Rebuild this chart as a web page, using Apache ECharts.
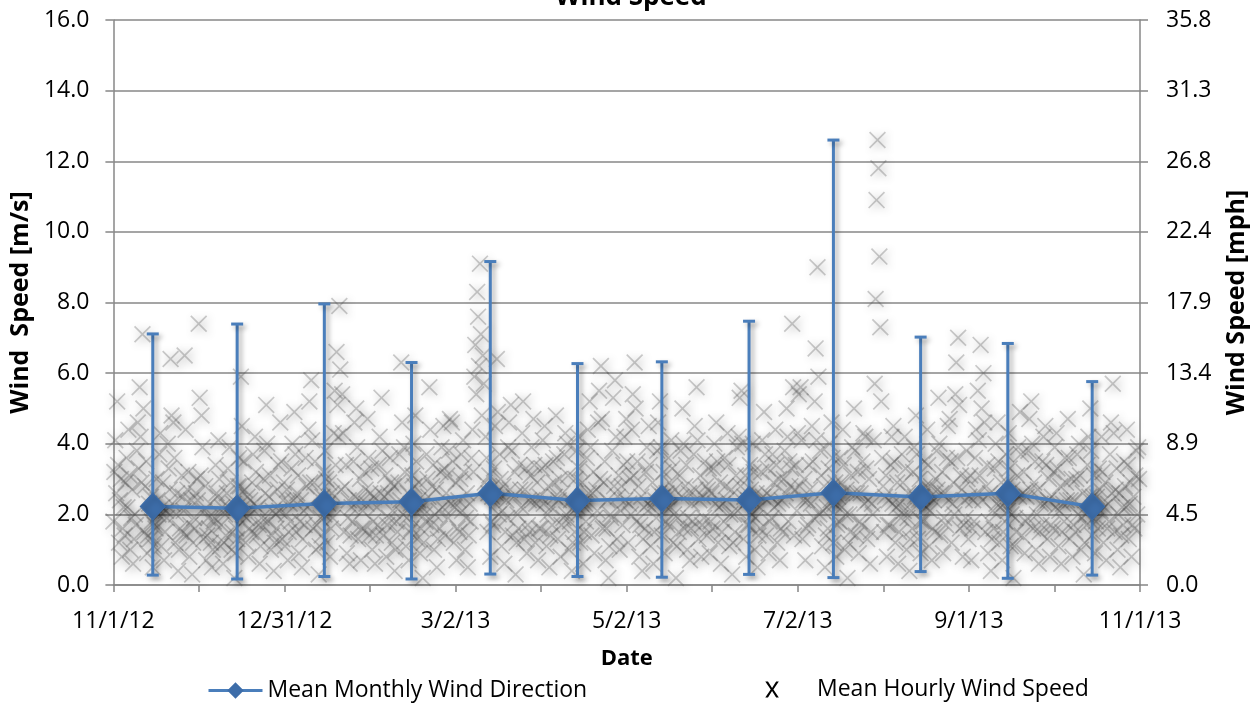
<!DOCTYPE html>
<html>
<head>
<meta charset="utf-8">
<title>Wind Speed</title>
<script src="https://cdn.jsdelivr.net/npm/echarts@6/dist/echarts.min.js"></script>
<style>
  html, body { margin: 0; padding: 0; background: #fff; }
  #chart { width: 1258px; height: 705px; }
</style>
</head>
<body>
<div id="chart"></div>
<script>
// Monthly statistics (m/s), plotted at the middle of each month
const monthDates = ['11/15/12','12/15/12','1/15/13','2/15/13','3/15/13','4/15/13','5/15/13','6/15/13','7/15/13','8/15/13','9/15/13','10/15/13'];
const monthMean  = [2.22, 2.17, 2.31, 2.36, 2.60, 2.39, 2.45, 2.41, 2.61, 2.49, 2.60, 2.22];
const monthMax   = [7.11, 7.39, 7.96, 6.30, 9.16, 6.27, 6.32, 7.47, 12.60, 7.02, 6.84, 5.76];
const monthMin   = [0.28, 0.17, 0.24, 0.17, 0.31, 0.24, 0.22, 0.30, 0.21, 0.38, 0.19, 0.28];

// Wind speed record (m/s), one value every 8 hours starting 11/1/12 00:00
const speedNov = [1.8,3.2,4.1,2.6,5.2,3.4,1.2,2.4,3.0,0.8,1.6,2.2,1.4,2.9,3.6,2.2,4.4,3.1,1.0,1.9,2.7,0.6,1.3,2.0,1.7,3.8,4.6,3.3,5.6,4.2,2.9,7.1,5.0,1.5,2.8,3.5,0.9,1.4,2.3,1.3,2.5,1.8,0.5,1.1,1.7,1.6,3.0,2.4,2.0,3.7,4.3,1.1,2.2,2.9,0.7,1.5,2.1,1.9,4.0,3.3,2.7,6.4,4.8,2.3,4.6,3.6,1.2,2.0,2.6,0.4,1.0,1.6,1.5,3.1,2.5,2.1,6.5,4.4,1.4,2.7,3.2,0.8,1.7,2.4,0.3,1.2,1.9,1.6,2.6,3.0];
const speedDec = [2.4,7.4,5.3,3.1,4.8,3.9,1.3,2.1,2.8,0.7,1.4,1.9,1.6,2.3,1.2,0.5,1.0,1.8,1.9,3.4,2.6,2.5,4.1,3.0,1.1,1.7,2.2,0.6,1.2,2.0,1.4,2.6,3.3,2.2,3.9,2.9,1.0,1.5,2.3,0.2,0.9,1.6,1.3,2.8,3.6,2.8,5.9,4.5,2.0,3.5,2.7,1.2,1.9,2.5,0.8,1.6,2.4,1.5,2.9,3.7,2.3,4.2,3.2,1.4,2.2,1.7,0.6,1.1,1.9,1.7,3.0,3.8,2.6,5.1,4.0,1.8,2.5,3.1,1.0,1.4,2.1,0.4,1.2,2.0,1.6,2.7,3.4,2.1,4.6,3.5,1.3,2.4,2.9];
const speedJan = [1.1,2.0,2.7,0.7,1.5,2.3,1.8,3.3,4.0,2.4,4.9,3.7,1.5,2.6,3.1,0.9,1.8,2.4,0.5,1.3,2.1,1.7,3.6,2.8,2.2,4.4,5.2,2.9,5.8,4.1,1.6,2.9,3.5,1.0,1.7,2.5,0.3,1.1,1.9,1.4,2.5,3.2,2.0,3.8,3.0,1.2,2.3,2.9,0.8,1.6,2.6,1.9,4.3,5.5,3.4,6.6,5.1,4.2,7.9,6.1,2.7,5.4,4.3,1.5,2.8,3.4,0.9,1.9,2.4,0.6,1.4,2.2,1.8,3.5,4.6,2.5,5.0,3.9,1.3,2.4,3.0,0.7,1.6,2.1,1.6,3.2,2.7,2.3,4.7,3.6,1.4,2.6,3.3];
const speedFeb = [1.0,1.8,2.5,0.6,1.4,2.2,1.7,3.4,4.2,2.6,5.3,3.8,1.4,2.5,3.1,0.8,1.7,2.6,1.9,3.6,2.9,1.2,2.1,2.8,0.4,1.0,1.8,1.5,2.9,3.7,2.4,6.3,4.6,2.0,3.9,3.2,1.1,1.9,2.6,0.7,1.5,2.3,1.6,3.1,4.0,2.8,4.8,3.5,1.3,2.4,2.9,0.9,1.6,2.2,0.2,1.2,2.0,1.8,3.7,3.0,2.5,5.6,4.4,1.7,2.8,3.4,1.0,2.0,2.7,0.5,1.3,2.1,1.6,3.2,3.9,2.2,4.5,3.3,1.4,2.6,3.1,1.9,3.8,4.7];
const speedMar = [2.3,4.6,3.5,1.2,2.2,2.9,0.7,1.6,2.4,1.5,3.0,3.7,2.1,4.1,3.2,1.0,1.9,2.6,0.5,1.4,2.3,1.8,3.6,4.4,3.2,5.9,6.8,5.4,8.3,7.6,6.2,9.1,7.1,4.8,6.5,5.7,2.9,4.2,3.6,1.5,2.6,3.1,0.8,1.8,2.5,1.7,3.3,4.5,2.6,6.4,4.9,2.0,3.7,3.0,1.1,2.1,2.8,0.6,1.5,2.4,1.9,3.9,4.6,2.7,5.1,3.8,1.4,2.5,3.2,0.3,1.2,2.0,1.6,3.4,2.7,2.2,4.3,5.2,1.3,2.7,3.3,0.9,1.7,2.4,1.5,3.1,3.9,2.4,4.7,3.4,1.2,2.3,2.9];
const speedApr = [0.7,1.6,2.5,1.6,3.3,4.1,2.3,4.5,3.4,1.1,2.0,2.8,0.5,1.4,2.2,1.7,3.5,2.9,2.5,4.8,3.6,1.3,2.4,3.0,0.8,1.7,2.6,1.9,3.7,4.3,2.0,4.0,3.1,1.0,1.8,2.4,0.4,1.2,2.1,1.5,3.0,3.8,2.2,4.2,3.3,1.2,2.3,2.9,0.6,1.5,2.3,1.8,3.6,4.4,2.6,5.2,3.9,1.4,2.6,3.2,0.9,1.9,2.7,2.1,4.6,5.5,3.0,6.2,4.7,1.6,2.9,3.5,0.7,1.6,2.4,0.2,1.1,2.0,1.9,3.8,5.3,2.8,5.8,4.2,1.3,2.5,3.1,1.0,2.1,2.8];
const speedMay = [1.7,3.4,4.2,2.4,4.7,3.5,1.2,2.3,3.0,2.0,4.4,5.4,3.1,6.3,5.0,1.8,3.5,2.8,0.8,1.7,2.5,0.4,1.3,2.2,1.6,3.2,3.9,2.3,4.5,3.4,1.1,2.2,2.9,0.6,1.5,2.4,1.9,3.8,4.6,2.6,5.2,3.9,1.4,2.5,3.2,0.9,1.8,2.6,1.7,3.6,2.9,2.2,4.1,3.3,1.2,2.0,2.7,0.2,1.1,1.9,1.5,3.1,3.8,2.5,5.0,4.0,1.6,2.8,3.4,1.0,1.9,2.6,0.7,1.6,2.3,1.8,3.7,4.5,2.7,5.6,4.1,1.3,2.4,3.1,0.8,1.7,2.5,1.9,3.5,2.8,1.4,2.7,3.3];
const speedJun = [0.9,1.8,2.6,1.6,3.3,4.0,2.3,4.6,3.5,1.2,2.2,2.9,0.6,1.5,2.3,1.8,3.6,2.8,2.4,4.3,3.4,1.1,2.0,2.7,0.3,1.2,2.0,1.5,3.1,3.9,2.1,4.2,5.3,2.8,5.5,4.0,1.3,2.5,3.1,0.8,1.7,2.4,1.7,3.4,2.7,2.0,4.0,3.2,1.0,1.9,2.6,0.5,1.4,2.2,1.6,3.2,4.1,2.5,4.9,3.7,1.4,2.6,3.3,0.9,1.8,2.5,1.9,3.7,2.9,2.2,4.4,3.4,1.2,2.3,3.0,0.7,1.6,2.4,1.5,3.0,3.8,2.6,5.0,4.2,1.8,3.5,2.8,3.3,7.4,5.6];
const speedJul = [1.4,2.7,3.4,2.1,4.3,5.4,2.8,5.6,4.1,1.3,2.4,3.0,0.7,1.6,2.4,1.7,3.4,2.7,2.3,4.5,3.5,1.9,5.2,6.7,4.1,9.0,5.9,2.0,3.8,3.1,1.1,2.1,2.8,0.5,1.4,2.2,1.6,3.3,4.0,2.4,4.6,3.6,1.2,2.3,2.9,0.8,1.7,2.5,1.8,3.6,2.9,2.2,4.4,3.4,1.0,2.0,2.7,0.2,1.2,2.0,1.5,3.1,3.9,2.6,5.0,3.8,1.4,2.6,3.2,0.9,1.8,2.6,1.7,3.5,4.3,2.3,4.2,3.3,1.3,2.4,3.0,0.6,1.5,2.3,2.0,4.1,5.7,8.1,10.9,12.6,11.8,9.3,7.3];
const speedAug = [5.2,3.6,2.8,1.5,2.5,3.1,0.8,1.7,2.4,1.7,3.4,4.2,2.3,4.5,3.5,1.2,2.2,2.9,0.6,1.5,2.3,1.9,3.7,2.9,2.1,4.2,3.3,1.0,1.9,2.6,0.4,1.3,2.1,1.6,3.2,3.9,2.5,4.8,3.7,1.3,2.4,3.0,0.9,1.8,2.5,1.8,3.5,2.8,2.2,4.4,3.4,1.1,2.1,2.8,0.7,1.6,2.4,1.5,3.0,3.8,2.7,5.3,4.0,1.4,2.6,3.2,0.9,1.9,2.6,1.7,3.6,4.5,2.4,4.7,3.5,1.2,2.3,2.9,2.0,5.4,6.3,3.6,7.0,5.1,1.6,3.1,2.7,0.8,1.7,2.4,1.9,3.8,3.0];
const speedSep = [1.3,2.5,3.1,0.7,1.6,2.4,1.8,3.6,4.4,2.6,5.5,4.1,3.1,6.8,5.0,2.4,6.0,4.6,1.5,2.8,3.4,0.9,1.8,2.6,0.4,1.3,2.1,1.6,3.3,4.0,2.3,4.6,3.5,1.2,2.2,2.9,0.7,1.5,2.3,1.8,3.7,2.9,2.1,4.3,3.3,1.1,2.0,2.7,0.2,1.1,1.9,1.5,3.1,3.9,2.5,4.9,3.7,1.4,2.6,3.2,0.9,1.8,2.5,1.9,3.8,4.7,2.7,5.2,4.0,1.6,2.9,3.5,1.0,2.0,2.7,0.6,1.5,2.3,1.7,3.5,4.2,2.3,4.5,3.4,1.3,2.4,3.0,0.8,1.7,2.5];
const speedOct = [1.6,3.2,3.9,2.2,4.3,3.3,1.1,2.1,2.8,0.6,1.5,2.3,1.8,3.6,2.9,2.4,4.7,3.6,1.3,2.4,3.0,0.8,1.7,2.4,1.5,3.0,3.7,2.0,4.0,3.1,1.0,1.9,2.6,0.3,1.2,2.0,1.7,3.4,4.2,2.5,5.0,3.8,1.4,2.5,3.1,0.9,1.8,2.5,1.6,3.3,2.7,2.1,4.2,3.2,1.2,2.2,2.9,0.7,1.6,2.3,1.8,3.7,4.6,2.6,5.7,4.3,1.5,2.7,3.3,1.0,2.0,2.6,0.5,1.4,2.2,1.7,3.5,2.8,2.2,4.4,3.4,1.3,2.3,2.9,0.8,1.7,2.5,1.6,3.1,3.8,2.0,3.9,3.0];

const SAMPLES_PER_DAY = 3;
const MS_TO_MPH = 2.23694;
const Y_MAX = 16;

const AXIS_START = Date.UTC(2012, 10, 1);
const DAY_MS = 86400000;

function dayOffset(str) {
  const p = str.split('/').map(Number);
  return (Date.UTC(2000 + p[2], p[0] - 1, p[1]) - AXIS_START) / DAY_MS;
}
function dayLabel(v) {
  const t = new Date(AXIS_START + Math.floor(v + 1e-6) * DAY_MS);
  return (t.getUTCMonth() + 1) + '/' + t.getUTCDate() + '/' + String(t.getUTCFullYear()).slice(2);
}

const record = [].concat(speedNov, speedDec, speedJan, speedFeb, speedMar, speedApr,
                         speedMay, speedJun, speedJul, speedAug, speedSep, speedOct);
const recordPoints = record.map((v, i) => [i / SAMPLES_PER_DAY, v]);
const meanPoints = monthDates.map((d, i) => [dayOffset(d), monthMean[i]]);
const rangePoints = monthDates.map((d, i) => [dayOffset(d), monthMin[i], monthMax[i]]);

const FONT = '"Open Sans", "Noto Sans", sans-serif';
const AXIS_GREY = '#878787';
const BLUE = '#4A7EBB';
// legend glyph: a letter-like X inside a 48x13 box (tiny anchor dots fix the box edges)
const X_ICON = 'path://M0,6.5L0.1,6.5L0.1,6.6Z' +
               'M10,0L12.2,0L15.5,5.2L18.8,0L21,0L16.6,6.5L21,13L18.8,13L15.5,7.8L12.2,13L10,13L14.4,6.5Z' +
               'M47.9,6.5L48,6.5L48,6.6Z';
const X_MARK = 'path://M0,0.7L0.7,0L5,4.3L9.3,0L10,0.7L5.7,5L10,9.3L9.3,10L5,5.7L0.7,10L0,9.3L4.3,5Z';

const chart = echarts.init(document.getElementById('chart'), null, { renderer: 'canvas' });

chart.setOption({
  animation: false,
  backgroundColor: '#ffffff',
  title: {
    text: 'Wind Speed',
    left: 626,
    top: -20,
    textAlign: 'center',
    textStyle: { fontFamily: FONT, fontSize: 26, fontWeight: 'bold', color: '#000' }
  },
  grid: { left: 112, right: 118, top: 20, bottom: 120, containLabel: false },
  legend: [
    {
      data: ['Mean Monthly Wind Direction'],
      left: 202, top: 674,
      itemWidth: 54, itemHeight: 17,
      lineStyle: { width: 3 },
      textStyle: { fontFamily: FONT, fontSize: 23, color: '#000' }
    },
    {
      data: [{
        name: 'Mean Hourly Wind Speed', icon: X_ICON,
        itemStyle: { color: '#000', opacity: 1, borderWidth: 0, shadowBlur: 0, shadowColor: 'transparent' }
      }],
      left: 748, top: 673,
      itemWidth: 59, itemHeight: 16,
      itemStyle: { color: '#000', opacity: 1, borderWidth: 0, shadowBlur: 0, shadowColor: 'transparent' },
      textStyle: { fontFamily: FONT, fontSize: 23, color: '#000' }
    }
  ],
  xAxis: {
    type: 'value',
    min: 0, max: 365, interval: 365 / 6,
    name: 'Date', nameLocation: 'middle', nameGap: 63,
    nameTextStyle: { fontFamily: FONT, fontSize: 22, fontWeight: 'bold', color: '#000' },
    axisLine: { show: true, onZero: false, lineStyle: { color: AXIS_GREY, width: 1.5 } },
    axisTick: { show: true, length: 7, lineStyle: { color: AXIS_GREY, width: 1.5 } },
    minorTick: { show: true, splitNumber: 2, length: 7, lineStyle: { color: AXIS_GREY, width: 1.5 } },
    splitLine: { show: false },
    axisLabel: { margin: 25, fontFamily: FONT, fontSize: 23, color: '#000', formatter: dayLabel }
  },
  yAxis: [
    {
      type: 'value', position: 'left',
      min: 0, max: Y_MAX, interval: 2,
      name: 'Wind  Speed [m/s]', nameLocation: 'middle', nameGap: 70, nameRotate: 90,
      nameTextStyle: { fontFamily: FONT, fontSize: 25, fontWeight: 'bold', color: '#000' },
      axisLine: { show: true, lineStyle: { color: AXIS_GREY, width: 1.5 } },
      axisTick: { show: true, length: 8, lineStyle: { color: AXIS_GREY, width: 1.5 } },
      splitLine: { show: true, lineStyle: { color: AXIS_GREY, width: 1.5 } },
      axisLabel: { margin: 24, fontFamily: FONT, fontSize: 23, color: '#000', formatter: v => v.toFixed(1) }
    },
    {
      type: 'value', position: 'right',
      min: 0, max: Y_MAX * MS_TO_MPH, interval: Y_MAX * MS_TO_MPH / 8,
      name: 'Wind Speed [mph]', nameLocation: 'middle', nameGap: 84, nameRotate: 90,
      nameTextStyle: { fontFamily: FONT, fontSize: 25, fontWeight: 'bold', color: '#000' },
      axisLine: { show: true, lineStyle: { color: AXIS_GREY, width: 1.5 } },
      axisTick: { show: true, length: 8, lineStyle: { color: AXIS_GREY, width: 1.5 } },
      splitLine: { show: false },
      axisLabel: { margin: 26, fontFamily: FONT, fontSize: 23, color: '#000', formatter: v => v.toFixed(1) }
    }
  ],
  series: [
    {
      name: 'Mean Hourly Wind Speed',
      type: 'scatter',
      yAxisIndex: 0,
      data: recordPoints,
      symbol: X_MARK,
      symbolSize: 17,
      large: false,
      z: 1,
      silent: true,
      itemStyle: {
        color: 'rgba(85,85,85,0.38)',
        shadowBlur: 9,
        shadowColor: 'rgba(0,0,0,0.95)',
        shadowOffsetX: 2,
        shadowOffsetY: 2
      }
    },
    {
      name: 'Monthly range',
      type: 'custom',
      yAxisIndex: 0,
      data: rangePoints,
      z: 3,
      silent: true,
      renderItem: function (params, api) {
        const x = api.value(0);
        const lo = api.coord([x, api.value(1)]);
        const hi = api.coord([x, api.value(2)]);
        const cap = 6;
        const style = {
          stroke: BLUE, lineWidth: 3,
          shadowBlur: 5, shadowColor: 'rgba(0,0,0,0.35)', shadowOffsetX: 3, shadowOffsetY: 3
        };
        return {
          type: 'group',
          children: [
            { type: 'line', shape: { x1: lo[0], y1: lo[1], x2: hi[0], y2: hi[1] }, style: style },
            { type: 'line', shape: { x1: hi[0] - cap, y1: hi[1], x2: hi[0] + cap, y2: hi[1] }, style: style },
            { type: 'line', shape: { x1: lo[0] - cap, y1: lo[1], x2: lo[0] + cap, y2: lo[1] }, style: style }
          ]
        };
      }
    },
    {
      name: 'Mean Monthly Wind Direction',
      type: 'line',
      yAxisIndex: 0,
      data: meanPoints,
      z: 5,
      symbol: 'diamond',
      symbolSize: [25, 27],
      showAllSymbol: true,
      lineStyle: {
        color: BLUE, width: 3.5,
        shadowBlur: 6, shadowColor: 'rgba(0,0,0,0.45)', shadowOffsetX: 3, shadowOffsetY: 3
      },
      itemStyle: {
        color: '#3D6DA9', borderColor: '#3D6DA9', borderWidth: 1,
        shadowBlur: 6, shadowColor: 'rgba(0,0,0,0.45)', shadowOffsetX: 3, shadowOffsetY: 3
      }
    }
  ]
});
</script>
</body>
</html>
